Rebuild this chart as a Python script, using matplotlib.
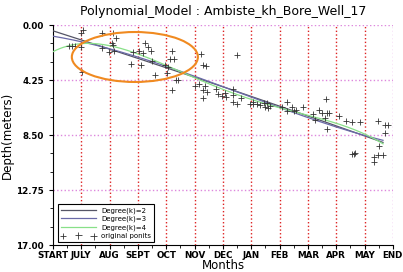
import numpy as np
import matplotlib.pyplot as plt
from matplotlib.patches import Ellipse
from matplotlib.ticker import MultipleLocator

# nhãn tháng trên trục x
months = ["START", "JULY", "AUG", "SEPT", "OCT", "NOV", "DEC", "JAN",
          "FEB", "MAR", "APR", "MAY", "END"]
yticks = [0.00, 4.25, 8.50, 12.75, 17.00]

# điểm quan trắc (tháng, độ sâu m)
t_obs = [0.56, 0.67, 0.78, 0.99, 0.99, 1.06, 1.02,
         1.73, 2.12, 2.22, 2.08, 2.12, 1.73, 1.98, 2.15,
         2.82, 3.04, 3.18, 3.25, 3.35, 3.46, 2.75, 3.11, 3.50, 3.60,
         4.20, 4.13, 4.27, 3.95, 4.06, 4.02, 4.34, 4.41, 4.20,
         5.22, 5.29, 5.40, 5.01, 5.15, 5.36, 5.29, 5.43, 5.29, 5.75, 5.82, 5.96,
         6.07, 6.11, 6.35, 6.35, 6.35, 6.49, 6.49, 6.64, 6.95,
         7.06, 7.06, 7.20, 7.31, 7.45, 7.48, 7.56, 7.59, 7.66,
         8.08, 8.26, 8.26, 8.43, 8.50, 8.57, 8.82, 9.18, 9.25,
         9.39, 9.49, 9.63, 9.67, 9.74, 9.60, 9.67,
         10.09, 10.34, 10.55, 10.83, 10.55, 10.62, 10.66,
         11.47, 11.72, 11.82, 11.72, 11.51, 11.33, 11.33, 11.47, 11.65]
d_obs = [1.62, 1.62, 1.62, 1.70, 0.62, 0.39, 3.63,
         0.62, 0.62, 1.00, 1.39, 1.55, 1.77, 2.09, 2.01,
         2.09, 2.01, 2.16, 1.39, 1.70, 2.01, 3.01, 3.09, 2.78, 3.86,
         2.01, 2.63, 2.63, 3.09, 3.25, 3.71, 4.25, 4.25, 5.02,
         2.24, 3.09, 3.17, 4.72, 4.56, 4.72, 5.02, 5.18, 5.64, 4.95, 5.33, 5.49,
         5.26, 5.56, 4.95, 5.41, 5.95, 6.11, 2.32, 5.64, 6.11,
         5.95, 6.11, 6.11, 6.18, 6.03, 6.34, 6.03, 6.41, 6.26,
         6.34, 5.95, 6.65, 6.34, 6.65, 6.57, 6.34, 6.88, 7.34,
         6.57, 6.80, 5.72, 6.80, 6.80, 7.19, 8.04,
         7.03, 7.42, 7.50, 7.50, 9.97, 9.97, 9.89,
         7.42, 7.73, 7.73, 8.34, 9.35, 10.20, 10.59, 10.05, 10.05]

t_obs = np.array(t_obs)
d_obs = np.array(d_obs)

fig = plt.figure(figsize=(4.03, 2.72), dpi=100)
ax = fig.add_axes([0.1315, 0.099, 0.8435, 0.809])

# đường hồi quy đa thức bậc 2, 3, 4
tt = np.linspace(0, 11.65, 300)
colors = {2: '#555566', 3: '#6a6aa8', 4: '#88e088'}
for k in (2, 3, 4):
    c = np.polyfit(t_obs, d_obs, k)
    ax.plot(tt, np.polyval(c, tt), color=colors[k], lw=0.9,
            label=f"Degree(k)={k}", zorder=3)

ax.scatter(t_obs, d_obs, marker='+', c='#333333', s=22, linewidths=0.6,
           label="original ponits", zorder=4)

# lưới
for m in range(1, 12):
    ax.axvline(m, color='#dd2222', ls=':', lw=1.0, zorder=1)
ax.axvline(12, color='#dd88dd', ls=':', lw=1.0, zorder=1)
for yv in yticks[:-1]:
    ax.axhline(yv, color='#dd88dd', ls=':', lw=1.0, zorder=1)

ax.add_patch(Ellipse((2.89, 2.47), 4.45, 3.86, fill=False,
                     edgecolor='#f08a20', lw=1.5, zorder=5))

ax.set_xlim(0, 12)
ax.set_ylim(17, 0)
ax.set_xticks(range(13))
ax.set_xticklabels(months)
ax.set_yticks(yticks)
ax.set_yticklabels([f"{v:.2f}" for v in yticks])
ax.xaxis.set_minor_locator(MultipleLocator(0.5))
ax.yaxis.set_minor_locator(MultipleLocator(17 / 12))
ax.tick_params(axis='both', which='major', labelsize=6.3, length=3, width=0.8)
ax.tick_params(axis='x', which='major', pad=1.5)
ax.tick_params(axis='both', which='minor', length=2, width=0.6)
for lab in ax.get_xticklabels() + ax.get_yticklabels():
    lab.set_fontweight('bold')

ax.spines['top'].set_visible(False)
ax.spines['right'].set_visible(False)

ax.set_title("Polynomial_Model : Ambiste_kh_Bore_Well_17", fontsize=9, pad=7)
ax.set_xlabel("Months", fontsize=8.5, labelpad=-1)
ax.set_ylabel("Depth(meters)", fontsize=8.5, labelpad=2)

leg = ax.legend(loc='lower left', fontsize=5, scatterpoints=3,
                handlelength=5, fancybox=False, framealpha=1,
                edgecolor='black', borderpad=0.4, labelspacing=0.3,
                bbox_to_anchor=(0.005, 0.0))
leg.get_frame().set_linewidth(0.8)

fig.savefig("out.png")
